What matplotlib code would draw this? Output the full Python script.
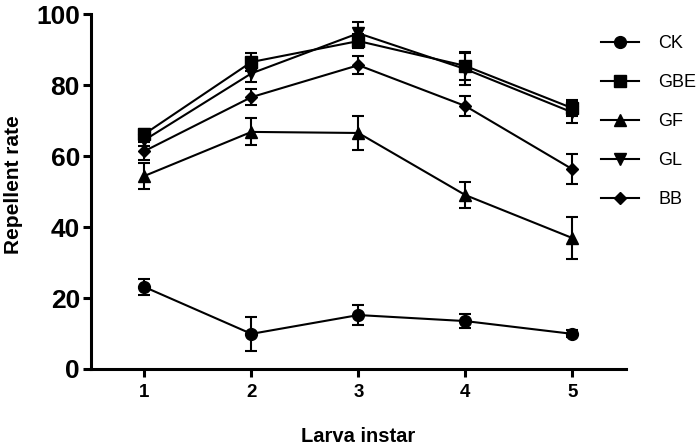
import matplotlib.pyplot as plt

# Repellent rate by larva instar, mean and error for each treatment
instar = [1, 2, 3, 4, 5]
labels = ["CK", "GBE", "GF", "GL", "BB"]
markers = ["o", "s", "^", "v", "D"]
msizes = [8.5, 8.5, 8.5, 8.5, 6.5]

ck = [23.1, 9.9, 15.2, 13.5, 9.9]
ck_err = [2.3, 4.7, 2.8, 2.0, 1.0]
gbe = [66.2, 86.5, 92.4, 85.4, 73.5]
gbe_err = [1.5, 2.5, 2.0, 3.9, 2.3]
gf = [54.4, 66.8, 66.5, 49.0, 36.9]
gf_err = [3.6, 3.8, 4.8, 3.6, 6.0]
gl = [64.5, 83.3, 94.6, 84.5, 72.3]
gl_err = [1.8, 2.5, 3.1, 4.5, 3.0]
bb = [61.4, 76.6, 85.6, 74.1, 56.3]
bb_err = [2.5, 2.3, 2.6, 2.8, 4.2]

series = [ck, gbe, gf, gl, bb]
errors = [ck_err, gbe_err, gf_err, gl_err, bb_err]

plt.rcParams['font.family'] = ['Liberation Sans', 'DejaVu Sans']

fig = plt.figure(figsize=(7, 4.47), dpi=100)
ax = fig.add_axes([0.13, 0.1745, 0.764, 0.794])

for vals, err, lab, m, ms in zip(series, errors, labels, markers, msizes):
    ax.errorbar(instar, vals, yerr=err, fmt='none', ecolor='black',
                elinewidth=1.5, capsize=4.5, capthick=1.5)
    ax.plot(instar, vals, color='black', linewidth=1.5, marker=m,
            markersize=ms, label=lab)

ax.set_xlim(0.5, 5.5)
ax.set_ylim(0, 100)
ax.set_xticks(instar)
ax.set_yticks([0, 20, 40, 60, 80, 100])

for side in ['top', 'right']:
    ax.spines[side].set_visible(False)
for side in ['left', 'bottom']:
    ax.spines[side].set_linewidth(2.2)

ax.tick_params(axis='both', direction='out', length=6, width=2.2)
ax.tick_params(axis='y', labelsize=19, pad=2)
ax.tick_params(axis='x', labelsize=13.5, pad=5)
for t in ax.get_yticklabels() + ax.get_xticklabels():
    t.set_fontweight('bold')

ax.set_xlabel("Larva instar", fontsize=14.5, fontweight='bold')
ax.set_ylabel("Repellent rate", fontsize=15, fontweight='bold')
ax.xaxis.set_label_coords(0.5, -0.163)
ax.yaxis.set_label_coords(-0.128, 0.52)

ax.legend(loc='upper left', bbox_to_anchor=(0.848, 0.937),
          bbox_transform=fig.transFigure, frameon=False, fontsize=13,
          handlelength=2.1, handletextpad=1.1, labelspacing=1.22,
          borderaxespad=0)

plt.savefig("out.png", dpi=100)
